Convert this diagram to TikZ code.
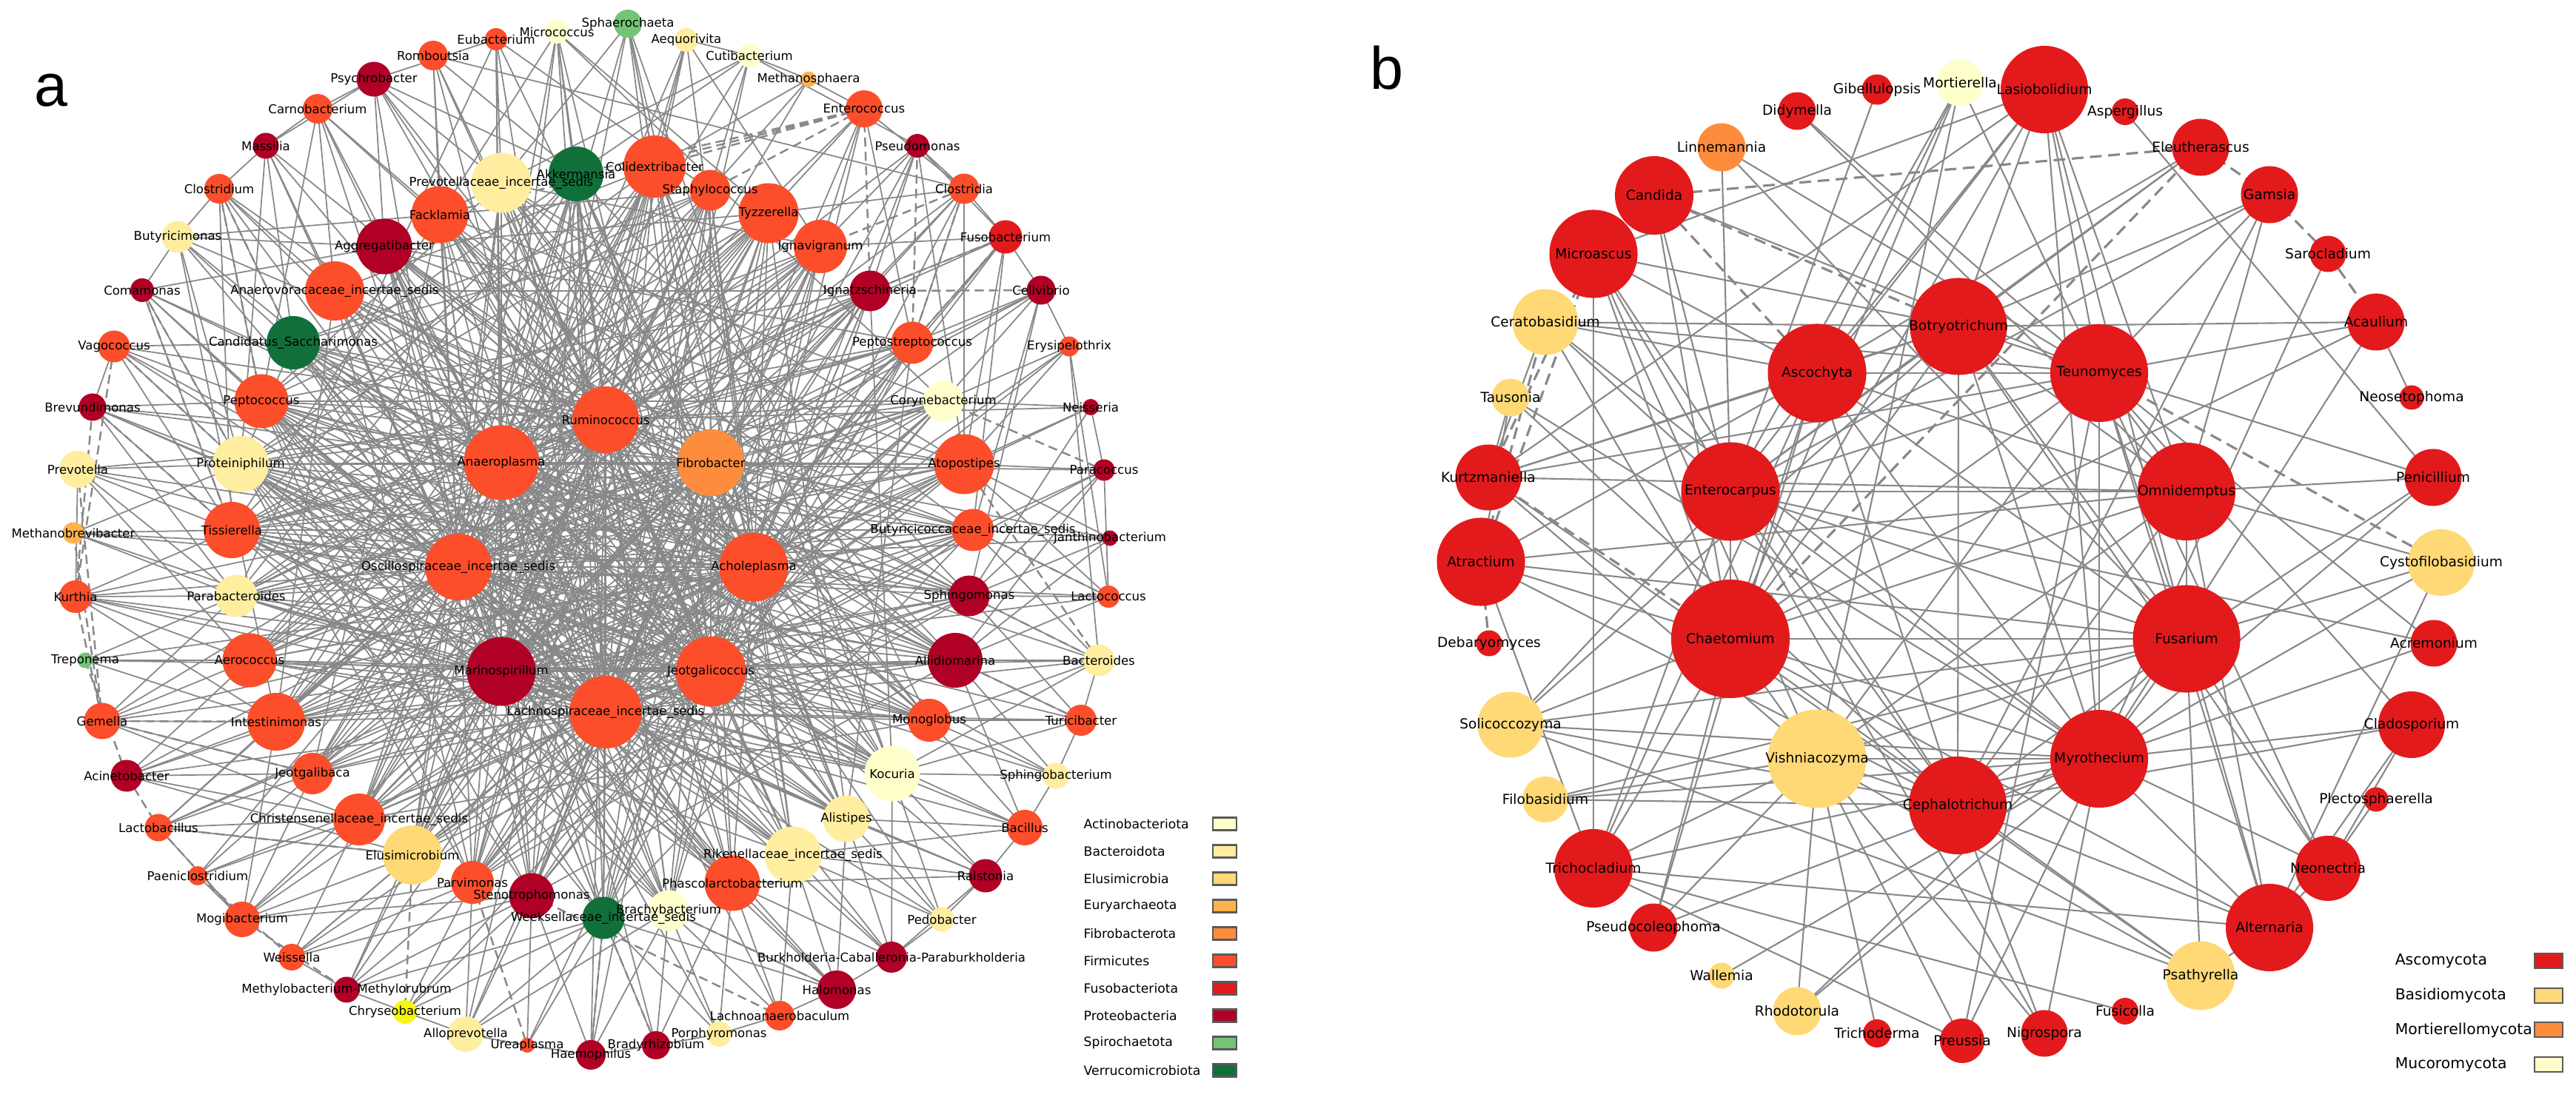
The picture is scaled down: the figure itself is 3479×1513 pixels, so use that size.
\documentclass[tikz,border=0pt]{standalone}
\usepackage{fontspec}
\setmainfont{DejaVu Sans}
\newfontfamily\panelfont{Liberation Sans}
\pgfdeclarelayer{edges}
\pgfdeclarelayer{tags}
\pgfsetlayers{edges,main,tags}

% phylum colours
\definecolor{actino}{HTML}{FFFFCC}
\definecolor{bactd}{HTML}{FFEDA0}
\definecolor{elusi}{HTML}{FED976}
\definecolor{eury}{HTML}{FEB24C}
\definecolor{fibro}{HTML}{FD8D3C}
\definecolor{firmi}{HTML}{FC4E2A}
\definecolor{fuso}{HTML}{E31A1C}
\definecolor{prot}{HTML}{B10026}
\definecolor{spiro}{HTML}{74C476}
\definecolor{verru}{HTML}{11703A}
\definecolor{yell}{HTML}{F5F50F}
\definecolor{asco}{HTML}{E31A1C}
\definecolor{basid}{HTML}{FED976}
\definecolor{morti}{HTML}{FD8D3C}
\definecolor{mucor}{HTML}{FFFFCC}
\definecolor{edgegray}{HTML}{888888}

\tikzset{
  taxon/.style={circle, inner sep=0pt, minimum size=#1*1cm},
  tagA/.style={font=\fontsize{4.7}{5}\selectfont, inner sep=0pt},
  tagB/.style={font=\fontsize{5.3}{6}\selectfont, inner sep=0pt},
  lnkA/.style={edgegray, line width=0.5pt},
  negA/.style={edgegray, line width=0.7pt, dash pattern=on 3.5pt off 2pt},
  lnkB/.style={edgegray, line width=0.6pt},
  negB/.style={edgegray, line width=0.9pt, dash pattern=on 4.5pt off 2.5pt},
  keyA/.style={font=\fontsize{4.9}{5}\selectfont, anchor=west, inner sep=0pt},
  keyB/.style={font=\fontsize{5.8}{6}\selectfont, anchor=west, inner sep=0pt},
  swatchA/.style={draw=black!65, line width=0.6pt, minimum width=0.32cm, minimum height=0.17cm, inner sep=0pt},
  swatchB/.style={draw=black!65, line width=0.6pt, minimum width=0.38cm, minimum height=0.2cm, inner sep=0pt},
  panel/.style={font=\panelfont\fontsize{23}{23}\selectfont, inner sep=0pt}
}

\begin{document}
\begin{tikzpicture}[x=0.01cm, y=-0.01cm]
    \useasboundingbox (0,0) rectangle (3479,1513);

    % 1. Panel letters
    \node[panel] (letterA) at (69,122) {a};
    \node[panel] (letterB) at (1873,92) {b};

    % 2. Bacterial taxa (panel a)
    \foreach \n/\x/\y/\d/\c/\lbl in {
        Mic/752/43/0.32/actino/Micrococcus, Sph/848/32/0.38/spiro/Sphaerochaeta,
        Eub/670/53/0.30/firmi/Eubacterium, Aeq/927/54/0.32/bactd/Aequorivita,
        Rom/585/75/0.40/firmi/Romboutsia, Cut/1012/75/0.32/actino/Cutibacterium,
        Msp/1092/107/0.21/eury/Methanosphaera, Psy/505/107/0.47/prot/Psychrobacter,
        Car/429/147/0.40/firmi/Carnobacterium, Ent/1167/147/0.50/firmi/Enterococcus,
        Mas/359/197/0.35/prot/Massilia, Pse/1239/197/0.32/prot/Pseudomonas,
        Clo/296/255/0.40/firmi/Clostridium, Cla/1302/255/0.41/firmi/Clostridia,
        But/240/320/0.43/bactd/Butyricimonas, Fus/1358/320/0.45/fuso/Fusobacterium,
        Com/192/392/0.32/prot/Comamonas, Cel/1406/392/0.39/prot/Cellvibrio,
        Vag/154/468/0.43/firmi/Vagococcus, Ery/1444/468/0.27/firmi/Erysipelothrix,
        Bre/125/550/0.37/prot/Brevundimonas, Nei/1473/550/0.22/prot/Neisseria,
        Prv/105/634/0.50/bactd/Prevotella, Pac/1491/635/0.29/prot/Paracoccus,
        Mbb/99/720/0.29/eury/Methanobrevibacter, Jan/1499/727/0.21/prot/Janthinobacterium,
        Kur/102/806/0.44/firmi/Kurthia, Lcc/1497/806/0.30/firmi/Lactococcus,
        Tre/115/892/0.21/spiro/Treponema, Bcd/1484/892/0.43/bactd/Bacteroides,
        Gem/138/974/0.49/firmi/Gemella, Tur/1460/973/0.42/firmi/Turicibacter,
        Aci/171/1048/0.43/prot/Acinetobacter, Sgb/1426/1048/0.35/bactd/Sphingobacterium,
        Lcb/214/1118/0.37/firmi/Lactobacillus, Bac/1384/1118/0.48/firmi/Bacillus,
        Pae/267/1183/0.26/firmi/Paeniclostridium, Ral/1331/1183/0.45/prot/Ralstonia,
        Mog/327/1242/0.48/firmi/Mogibacterium, Ped/1272/1242/0.33/bactd/Pedobacter,
        Wei/394/1293/0.36/firmi/Weissella, Bur/1204/1293/0.42/prot/Burkholderia-Caballeronia-Paraburkholderia,
        Mty/468/1337/0.35/prot/Methylobacterium-Methylorubrum, Hal/1130/1337/0.52/prot/Halomonas,
        Chy/547/1367/0.32/yell/Chryseobacterium, Lan/1053/1372/0.40/firmi/Lachnoanaerobaculum,
        All/629/1397/0.48/bactd/Alloprevotella, Por/971/1397/0.34/bactd/Porphyromonas,
        Ure/712/1412/0.20/firmi/Ureaplasma, Bra/886/1412/0.38/prot/Bradyrhizobium,
        Hae/798/1425/0.40/prot/Haemophilus,
        Cas/396/463/0.72/verru/Candidatus\_Saccharimonas, Anv/452/393/0.80/firmi/Anaerovoracaceae\_incertae\_sedis,
        Agg/519/333/0.75/prot/Aggregatibacter, Fac/594/290/0.77/firmi/Facklamia,
        Pvc/677/247/0.81/bactd/Prevotellaceae\_incertae\_sedis, Akk/778/235/0.74/verru/Akkermansia,
        Col/884/225/0.84/firmi/Colidextribacter, Sta/959/257/0.55/firmi/Staphylococcus,
        Tyz/1038/288/0.81/firmi/Tyzzerella, Ign/1108/333/0.72/firmi/Ignavigranum,
        Igt/1175/393/0.55/prot/Ignatzschineria, Pst/1232/463/0.57/firmi/Peptostreptococcus,
        Cor/1274/542/0.55/actino/Corynebacterium, Atp/1302/627/0.81/firmi/Atopostipes,
        Buc/1314/716/0.57/firmi/Butyricicoccaceae\_incertae\_sedis, Sgm/1309/805/0.55/prot/Sphingomonas,
        Ali/1290/892/0.74/prot/Aliidiomarina, Mon/1255/973/0.58/firmi/Monoglobus,
        Koc/1205/1045/0.75/actino/Kocuria, Als/1143/1106/0.63/bactd/Alistipes,
        Rik/1071/1155/0.77/bactd/Rikenellaceae\_incertae\_sedis, Pha/989/1193/0.75/firmi/Phascolarctobacterium,
        Bry/903/1230/0.55/actino/Brachybacterium, Wee/815/1240/0.57/verru/Weeksellaceae\_incertae\_sedis,
        Ste/718/1210/0.61/prot/Stenotrophomonas, Par/638/1192/0.58/firmi/Parvimonas,
        Elu/557/1155/0.80/elusi/Elusimicrobium, Chr/485/1107/0.70/firmi/Christensenellaceae\_incertae\_sedis,
        Jgb/422/1045/0.56/firmi/Jeotgalibaca, Int/373/975/0.78/firmi/Intestinimonas,
        Aer/337/892/0.73/firmi/Aerococcus, Pab/319/805/0.57/bactd/Parabacteroides,
        Tis/313/716/0.76/firmi/Tissierella, Pro/325/627/0.76/bactd/Proteiniphilum,
        Pep/353/542/0.73/firmi/Peptococcus,
        Rum/818/567/0.90/firmi/Ruminococcus, Ana/677/625/1.01/firmi/Anaeroplasma,
        Fib/960/625/0.90/fibro/Fibrobacter, Osc/619/766/0.90/firmi/Oscillospiraceae\_incertae\_sedis,
        Ach/1018/766/0.93/firmi/Acholeplasma, Mar/677/907/0.93/prot/Marinospirillum,
        Jgc/960/907/0.95/firmi/Jeotgalicoccus, Lac/818/962/0.98/firmi/Lachnospiraceae\_incertae\_sedis} {
        \node[taxon=\d, fill=\c] (\n) at (\x,\y) {};
        \begin{pgfonlayer}{tags}\node[tagA] at (\n) {\lbl};\end{pgfonlayer}
    }

    % 3. Fungal taxa (panel b)
    \foreach \n/\x/\y/\d/\c/\lbl in {
        Lasi/2761/121/1.18/asco/Lasiobolidium, Mort/2647/112/0.63/mucor/Mortierella,
        Gibe/2535/121/0.41/asco/Gibellulopsis, Didy/2427/150/0.51/asco/Didymella,
        Linn/2325/199/0.65/morti/Linnemannia, Cand/2234/264/1.06/asco/Candida,
        Micr/2152/343/1.19/asco/Microascus, Cera/2087/435/0.89/basid/Ceratobasidium,
        Taus/2040/537/0.51/basid/Tausonia, Kurt/2010/645/0.89/asco/Kurtzmaniella,
        Atra/2000/759/1.19/asco/Atractium, Deba/2011/869/0.35/asco/Debaryomyces,
        Soli/2040/979/0.89/basid/Solicoccozyma, Filo/2087/1080/0.62/basid/Filobasidium,
        Trcl/2152/1173/1.06/asco/Trichocladium, Pseu/2233/1253/0.65/asco/Pseudocoleophoma,
        Wall/2325/1318/0.35/basid/Wallemia, Rhod/2427/1366/0.65/basid/Rhodotorula,
        Trid/2535/1396/0.38/asco/Trichoderma, Preu/2650/1406/0.60/asco/Preussia,
        Nigr/2761/1396/0.63/asco/Nigrospora, Fusi/2870/1366/0.36/asco/Fusicolla,
        Psat/2972/1318/0.93/basid/Psathyrella, Alte/3065/1253/1.18/asco/Alternaria,
        Neon/3144/1173/0.88/asco/Neonectria, Plec/3209/1080/0.33/asco/Plectosphaerella,
        Clad/3257/979/0.90/asco/Cladosporium, Acre/3287/869/0.63/asco/Acremonium,
        Cyst/3297/760/0.90/basid/Cystofilobasidium, Peni/3286/645/0.77/asco/Penicillium,
        Neos/3257/537/0.33/asco/Neosetophoma, Acau/3209/435/0.77/asco/Acaulium,
        Saro/3144/343/0.49/asco/Sarocladium, Gams/3065/263/0.77/asco/Gamsia,
        Eleu/2972/199/0.77/asco/Eleutherascus, Aspe/2870/151/0.36/asco/Aspergillus,
        Botr/2645/441/1.31/asco/Botryotrichum, Asco/2454/504/1.33/asco/Ascochyta,
        Teun/2835/504/1.32/asco/Teunomyces, Ente/2337/664/1.33/asco/Enterocarpus,
        Omni/2953/664/1.32/asco/Omnidemptus, Chae/2337/863/1.60/asco/Chaetomium,
        Fusa/2953/863/1.45/asco/Fusarium, Vish/2454/1025/1.33/basid/Vishniacozyma,
        Myro/2835/1025/1.32/asco/Myrothecium, Ceph/2644/1088/1.32/asco/Cephalotrichum} {
        \node[taxon=\d, fill=\c] (\n) at (\x,\y) {};
        \begin{pgfonlayer}{tags}\node[tagB] at (\n) {\lbl};\end{pgfonlayer}
    }

    % 4. Legends
    \foreach \c/\lbl [count=\i from 0] in {actino/Actinobacteriota, bactd/Bacteroidota,
        elusi/Elusimicrobia, eury/Euryarchaeota, fibro/Fibrobacterota, firmi/Firmicutes,
        fuso/Fusobacteriota, prot/Proteobacteria, spiro/Spirochaetota, verru/Verrucomicrobiota} {
        \node[keyA] (keyA\i) at (1463,{1113+37*\i}) {\lbl};
        \node[swatchA, fill=\c] (boxA\i) at (1654,{1113+37*\i}) {};
    }
    \foreach \c/\lbl [count=\i from 0] in {asco/Ascomycota, basid/Basidiomycota,
        morti/Mortierellomycota, mucor/Mucoromycota} {
        \node[keyB] (keyB\i) at (3234,{1298+46.7*\i}) {\lbl};
        \node[swatchB, fill=\c] (boxB\i) at (3442,{1298+46.7*\i}) {};
    }

    % 5. Correlations, panel a
    \begin{pgfonlayer}{edges}
    % hubs among themselves
    \foreach \u [count=\i] in {Rum,Ana,Fib,Osc,Ach,Mar,Jgc,Lac} {
        \foreach \v [count=\j] in {Rum,Ana,Fib,Osc,Ach,Mar,Jgc,Lac} {
            \ifnum\j>\i \draw[lnkA] (\u.center) -- (\v.center); \fi
        }
    }
    % hubs to the inner ring
    \foreach \u in {Rum,Ana,Fib,Osc,Ach,Mar,Jgc,Lac} {
        \foreach \v in {Akk,Col,Pvc,Fac,Agg,Anv,Cas,Sta,Tyz,Ign,Igt,Pst,Cor,Atp,Buc,Sgm,Ali,Mon,
                        Koc,Als,Rik,Pha,Bry,Wee,Ste,Par,Elu,Chr,Jgb,Int,Aer,Pab,Tis,Pro,Pep} {
            \draw[lnkA] (\u.center) -- (\v.center);
        }
    }
    % inner ring and outer ring
    \foreach \u/\vs in {
        Akk/{Pep,Tis,Als,Sgm,Chr,Pab,Int,Wee,Bry,Ste}, Col/{Pro,Aer,Koc,Mon,Int,Elu,Par,Chr,Jgb},
        Pvc/{Ign,Atp,Rik,Elu,Buc,Pep,Pha,Mon,Ali}, Fac/{Sta,Cor,Als,Ste,Jgb,Tis,Koc,Rik,Sgm},
        Agg/{Tyz,Pst,Pha,Bry,Wee,Ali,Atp,Mon}, Anv/{Igt,Buc,Ali,Par,Int,Col,Koc,Als},
        Cas/{Sta,Tyz,Mon,Koc,Pha,Pro,Sgm,Atp,Rik}, Sta/{Pep,Pro,Elu,Rik,Aer,Chr,Par,Wee},
        Tyz/{Tis,Aer,Chr,Als,Pab,Elu,Ste,Int}, Ign/{Pab,Int,Ste,Wee,Pro,Tis,Jgb,Elu},
        Igt/{Pep,Jgb,Bry,Koc,Tis,Aer,Par}, Pst/{Pro,Tis,Par,Als,Int,Chr,Wee},
        Cor/{Aer,Elu,Pep,Int,Pab,Ste}, Atp/{Pab,Chr,Int,Tis,Elu,Pro},
        Buc/{Tis,Jgb,Wee,Pro,Aer,Par}, Sgm/{Pro,Par,Elu,Pep,Int},
        Ali/{Pep,Int,Ste,Pro,Tis,Pab}, Mon/{Tis,Chr,Pro,Pep,Aer},
        Koc/{Aer,Pab,Pep,Tis}, Als/{Pep,Tis,Pro}, Rik/{Pro,Aer,Pep}, Pha/{Pep,Pro,Tis},
        Bry/{Pep,Tis,Pro}, Wee/{Pro,Pep}, Ste/{Pep,Pro}, Par/{Pro,Pep},
        Mic/{Akk,Rum,Ana,Tyz,Jgc,Cor,Fac,Lac,Osc}, Sph/{Col,Fib,Ach,Pvc,Koc,Ana,Mar,Jgc},
        Eub/{Pvc,Ana,Sta,Mar,Pab,Psy,Ach,Lac}, Aeq/{Col,Rum,Ign,Ach,Cut,Osc,Mar},
        Rom/{Fac,Akk,Rum,Lac,Cla,Jgc,Osc}, Cut/{Akk,Fac,Lac,Msp,Sta,Pse,Ana},
        Msp/{Col,Sta,Ent,Rum}, Psy/{Agg,Pvc,Rum,Osc,Car,Mas,Akk,Jgc,Ach},
        Car/{Anv,Fac,Ana,Mar,Mas,Pep,Lac,Fib}, Ent/{Tyz,Ign,Ach,Pst,Cla,Ana,Lac},
        Mas/{Cas,Anv,Osc,Clo,Pro,Rum,Jgc}, Pse/{Igt,Ign,Atp,Ach,Cla,Fus,Lac,Ana},
        Clo/{Pep,Anv,Ana,Cas,But,Tis,Lac,Ach}, Cla/{Pst,Igt,Atp,Jgc,Fus,Tyz,Mar,Osc},
        But/{Cas,Pro,Osc,Agg,Fac,Com,Int,Rum,Jgc}, Fus/{Igt,Pst,Atp,Buc,Ach,Cel,Ign,Lac,Ana},
        Com/{Pep,Pro,Tis,Ana,Agg,Ach,Lac}, Cel/{Pst,Cor,Buc,Ery,Sgm,Fib,Mar,Osc},
        Vag/{Pep,Pro,Tis,Osc,Cas,Bre,Rum,Jgc}, Ery/{Cor,Atp,Lcc,Bcd,Ach,Lac},
        Bre/{Pep,Pro,Tis,Pab,Ana,Osc,Fib,Jgc}, Nei/{Atp,Cor,Pac,Sgm,Rum,Ach},
        Prv/{Pro,Tis,Pab,Osc,Aer,Kur,Ach,Rum}, Pac/{Atp,Buc,Sgm,Lcc,Ali,Ana,Jgc},
        Mbb/{Tis,Pab,Pro,Osc,Lac,Ach}, Jan/{Buc,Sgm,Atp,Ali,Osc,Fib},
        Kur/{Pab,Tis,Aer,Mar,Int,Lac,Osc,Fib,Jgc}, Lcc/{Sgm,Ali,Buc,Atp,Mar,Osc},
        Tre/{Aer,Int,Pab,Jgc,Ach}, Bcd/{Ali,Sgm,Mon,Tur,Koc,Buc,Mar,Lac,Ana},
        Gem/{Aer,Int,Jgb,Mar,Chr,Pab,Ach,Rum}, Tur/{Ali,Mon,Koc,Sgm,Sgb,Lac,Osc},
        Aci/{Int,Jgb,Chr,Aer,Lac,Elu,Fib,Ach}, Sgb/{Koc,Mon,Ali,Bac,Jgc,Ana},
        Lcb/{Int,Jgb,Chr,Elu,Mar,Mog,Ach,Rum}, Bac/{Koc,Als,Mon,Ali,Rik,Ral,Lac,Osc},
        Pae/{Jgb,Chr,Mog,Osc,Jgc}, Ral/{Als,Koc,Rik,Pha,Ped,Ana,Mar},
        Mog/{Int,Jgb,Chr,Elu,Par,Ste,Ach,Fib}, Ped/{Koc,Als,Rik,Bur,Lac,Rum},
        Wei/{Chr,Elu,Par,Mty,Ste,Ach,Jgc}, Bur/{Rik,Pha,Als,Koc,Hal,Ral,Osc,Ana},
        Mty/{Elu,Par,Ste,Chy,Wee,Rum,Fib}, Hal/{Pha,Rik,Bry,Wee,Als,Lan,Osc,Mar},
        Chy/{Par,Ste,Wee,All,Jgc}, Lan/{Pha,Bry,Rik,Por,Ana},
        All/{Ste,Wee,Par,Bry,Ure,Fib,Rum}, Por/{Bry,Wee,Pha,Bra,Osc},
        Ure/{Wee,Ste,Hae,Ach}, Bra/{Wee,Bry,Pha,Hae,Ana}, Hae/{Wee,Ste,Bry,Rum,Fib}} {
        \foreach \v in \vs {\draw[lnkA] (\u.center) -- (\v.center);}
    }
    % negative correlations
    \foreach \u/\v in {Ent/Col, Ent/Sta, Ent/Akk, Ent/Fac, Ent/Igt, Pse/Pst, Cla/Ign, Cla/Pst,
        Fus/Igt, Fus/Pst, Cel/Igt, Clo/Cas, Clo/Pep, Com/Pro, Com/Tis, Vag/Pro, Vag/Kur,
        Bre/Kur, Bre/Tis, Prv/Gem, Mbb/Gem, Kur/Gem, Gem/Int, Gem/Jgb, Tre/Aci, Aci/Lcb,
        Lcb/Mog, Lcb/Elu, Pae/Wei, Elu/Chy, Wee/Hae, Wee/Bra, Bry/Hal, Ste/Lan, Par/Ure,
        Mog/Mty, Sgm/Bcd, Ali/Tur, Atp/Bcd, Buc/Lcc, Cor/Pac} {
        \draw[negA] (\u.center) -- (\v.center);
    }

    % 6. Correlations, panel b
    \foreach \u/\vs in {
        Lasi/{Teun,Omni,Botr,Asco,Ente,Chae,Myro,Micr,Kurt,Fusa}, Mort/{Ente,Chae,Asco,Teun,Vish},
        Gibe/{Ente}, Didy/{Teun,Omni}, Linn/{Ente,Teun,Fusa}, Aspe/{Peni},
        Eleu/{Asco,Ente,Botr}, Gams/{Botr,Teun,Omni,Ente,Ceph}, Saro/{Myro},
        Acau/{Neos,Botr,Chae,Myro,Teun}, Peni/{Teun,Omni,Myro,Fusa},
        Cyst/{Omni,Fusa,Myro,Alte}, Acre/{Myro,Teun,Ente}, Clad/{Myro,Ceph,Neon,Alte,Teun},
        Plec/{Neon}, Neon/{Fusa,Myro,Teun,Alte,Botr}, Alte/{Fusa,Myro,Ceph,Chae,Psat,Teun,Omni},
        Psat/{Fusa,Ceph,Vish,Chae,Soli}, Fusi/{Trcl}, Nigr/{Myro,Ceph,Vish,Ente},
        Preu/{Myro,Teun,Vish,Trcl}, Trid/{Vish}, Rhod/{Vish,Myro,Fusa}, Wall/{Myro},
        Pseu/{Chae,Vish,Myro,Asco}, Trcl/{Chae,Asco,Ente,Vish,Myro,Alte,Micr,Atra},
        Filo/{Vish,Ceph,Fusa,Myro}, Soli/{Botr,Fusa,Ceph,Chae,Myro,Ente},
        Atra/{Chae,Ceph,Fusa,Omni,Asco}, Kurt/{Asco,Botr,Teun,Omni,Vish,Ceph},
        Taus/{Ceph,Kurt,Atra,Myro}, Cera/{Asco,Teun,Botr,Ente,Chae,Myro,Kurt},
        Micr/{Botr,Asco,Ente,Chae,Ceph,Vish}, Cand/{Ente,Chae,Teun},
        Chae/{Fusa,Botr,Teun,Asco,Omni,Ente,Myro,Vish}, Fusa/{Botr,Teun,Asco,Omni,Ente,Myro,Vish,Ceph},
        Botr/{Teun,Asco,Omni,Ente,Ceph,Myro}, Teun/{Asco,Ente,Myro,Vish,Omni},
        Asco/{Omni,Ceph,Myro}, Omni/{Ente,Vish,Ceph}, Ente/{Myro,Ceph}, Myro/{Ceph,Vish},
        Vish/{Ceph}} {
        \foreach \v in \vs {\draw[lnkB] (\u.center) -- (\v.center);}
    }
    \foreach \u/\v in {Cand/Eleu, Cand/Botr, Cand/Asco, Micr/Atra, Micr/Kurt, Kurt/Chae,
        Atra/Deba, Eleu/Chae, Eleu/Gams, Gams/Saro, Saro/Acau, Teun/Cyst, Cera/Atra} {
        \draw[negB] (\u.center) -- (\v.center);
    }
    \end{pgfonlayer}

\end{tikzpicture}
\end{document}
